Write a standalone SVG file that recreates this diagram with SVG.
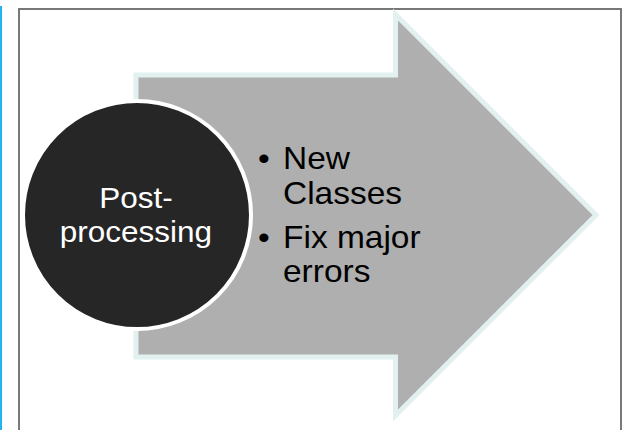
<svg xmlns="http://www.w3.org/2000/svg" width="623" height="430" viewBox="0 0 623 430">
<style>
.lbl{font-family:"Liberation Sans",Arial,sans-serif}
.w{fill:#ffffff}
.b{fill:#000000}
</style>
<rect x="0" y="0" width="623" height="430" fill="#ffffff"/>
<rect x="-10" y="7" width="11" height="440" fill="none" stroke="#22b4ee" stroke-width="2"/>
<rect x="19" y="9" width="602" height="440" fill="none" stroke="#6a6a6a" stroke-width="1.8"/>
<g id="arrow">
<polygon points="136,75 395.5,75 395.5,14.5 596,215 395.5,415.5 395.5,357 136,357" fill="#afafaf" stroke="#e2f0f0" stroke-width="5" stroke-linejoin="miter" stroke-miterlimit="10"/>
</g>
<g id="circle">
<circle cx="137" cy="215" r="114" fill="#262626" stroke="#ffffff" stroke-width="4"/>
<text class="lbl w" font-size="30" text-anchor="middle" transform="translate(136 207.7) scale(1.05 1)">Post-</text>
<text class="lbl w" font-size="30" text-anchor="middle" transform="translate(136 241.7) scale(1.05 1)">processing</text>
</g>
<g id="bullets">
<text class="lbl b" font-size="31" transform="translate(258 169) scale(1.08 1)">•</text>
<text class="lbl b" font-size="31" transform="translate(283 169) scale(1.08 1)">New</text>
<text class="lbl b" font-size="31" transform="translate(283 204) scale(1.08 1)">Classes</text>
<text class="lbl b" font-size="31" transform="translate(258 247.7) scale(1.08 1)">•</text>
<text class="lbl b" font-size="31" transform="translate(283 247.7) scale(1.08 1)">Fix major</text>
<text class="lbl b" font-size="31" transform="translate(283 281.7) scale(1.08 1)">errors</text>
</g>
</svg>
